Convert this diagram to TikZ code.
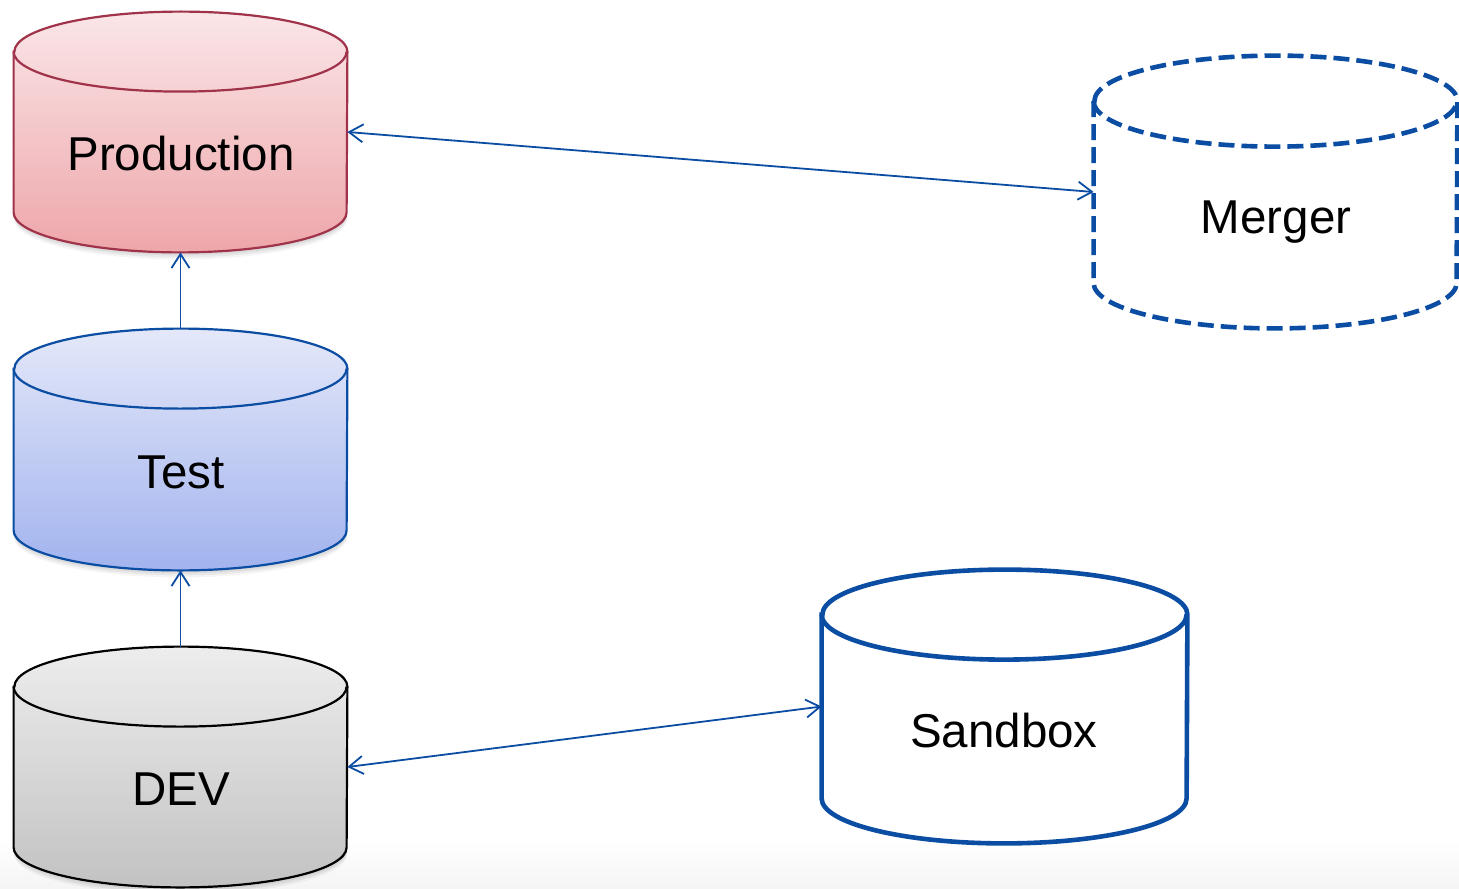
\documentclass[tikz,border=0pt]{standalone}
\usepackage{fontspec}
\setmainfont{Liberation Sans}
\usetikzlibrary{arrows.meta,calc}

\definecolor{dbblue}{HTML}{0A4DA2}
\definecolor{prodline}{HTML}{A0334A}
\definecolor{prodtop}{HTML}{FAE6E8}
\definecolor{prodbot}{HTML}{EEA6AA}
\definecolor{testtop}{HTML}{E4E8F9}
\definecolor{testbot}{HTML}{A2B3EE}
\definecolor{devtop}{HTML}{EDEDED}
\definecolor{devbot}{HTML}{C2C2C2}

\tikzset{
  dbbox/.style={draw=none, inner sep=0pt, rectangle},
  dblabel/.style={anchor=base, font=\fontsize{23.75pt}{28pt}\selectfont},
  link/.style={draw=dbblue, line width=0.9pt,
    arrows={-Straight Barb[length=7pt,width=9pt]}},
  biglink/.style={draw=dbblue, line width=0.9pt,
    arrows={Straight Barb[length=7pt,width=9pt]-Straight Barb[length=7pt,width=9pt]}},
}

% \dbcyl{node}{x radius}{y radius}{fill options}{stroke options}
\newcommand{\dbcyl}[5]{%
  \path[#4, #5]
    ([yshift=-#3]#1.north west) -- ([yshift=#3]#1.south west)
    arc[start angle=180, end angle=360, x radius=#2, y radius=#3]
    -- ([yshift=-#3]#1.north east)
    arc[start angle=0, end angle=180, x radius=#2, y radius=#3] -- cycle;
  \path[#5]
    ([yshift=-#3]#1.north west)
    arc[start angle=180, end angle=360, x radius=#2, y radius=#3];
}
% soft shadow under the bottom rim of a filled cylinder
\newcommand{\dbshadow}[3]{%
  \foreach \s/\o in {1.5pt/0.05, 2.5pt/0.05, 3.5pt/0.04}{
    \fill[black, opacity=\o]
      ([yshift=#3-\s]#1.south) ellipse[x radius=#2, y radius=#3];
  }
}

\begin{document}
\begin{tikzpicture}[x=0.5pt, y=0.5pt]
  % canvas
  \useasboundingbox (0,0) rectangle (1459,-888);
  \fill[white] (0,0) rectangle (1459,-888);
  \shade[top color=white, bottom color=black!4] (0,-840) rectangle (1459,-888);

  % database boxes
  \node[dbbox, minimum width=166.5pt, minimum height=120pt]   (prod)    at (180.5,-132)   {};
  \node[dbbox, minimum width=166.5pt, minimum height=120.5pt] (test)    at (180.5,-449.5) {};
  \node[dbbox, minimum width=166.5pt, minimum height=120pt]   (dev)     at (180.5,-767)   {};
  \node[dbbox, minimum width=181.5pt, minimum height=136pt]   (merger)  at (1275.5,-192)  {};
  \node[dbbox, minimum width=182.5pt, minimum height=136.5pt] (sandbox) at (1004.5,-706.5){};

  % shadows
  \dbshadow{prod}{83.25pt}{20pt}
  \dbshadow{test}{83.25pt}{20pt}
  \dbshadow{dev}{83.25pt}{20pt}

  % cylinders
  \dbcyl{prod}{83.25pt}{20pt}{top color=prodtop, bottom color=prodbot}{draw=prodline, line width=1.1pt}
  \dbcyl{test}{83.25pt}{20pt}{top color=testtop, bottom color=testbot}{draw=dbblue, line width=1.1pt}
  \dbcyl{dev}{83.25pt}{20pt}{top color=devtop, bottom color=devbot}{draw=black, line width=1.1pt}
  \dbcyl{merger}{90.75pt}{22.75pt}{fill=white}{draw=dbblue, line width=2.3pt, dash pattern=on 8pt off 3.5pt}
  \dbcyl{sandbox}{91.25pt}{22.5pt}{fill=white}{draw=dbblue, line width=2.3pt}

  % labels
  \node[dblabel] (prodlbl)    at (181,-170)   {Production};
  \node[dblabel] (testlbl)    at (181,-488)   {Test};
  \node[dblabel] (devlbl)     at (181,-805)   {DEV};
  \node[dblabel] (mergerlbl)  at (1276,-233)  {Merger};
  \node[dblabel] (sandboxlbl) at (1004,-747)  {Sandbox};

  % connectors
  \draw[link] (test.north) -- (prod.south);
  \draw[link] (dev.north) -- (test.south);
  \draw[biglink] (prod.east) -- (merger.west);
  \draw[biglink] (dev.east) -- (sandbox.west);
\end{tikzpicture}
\end{document}
